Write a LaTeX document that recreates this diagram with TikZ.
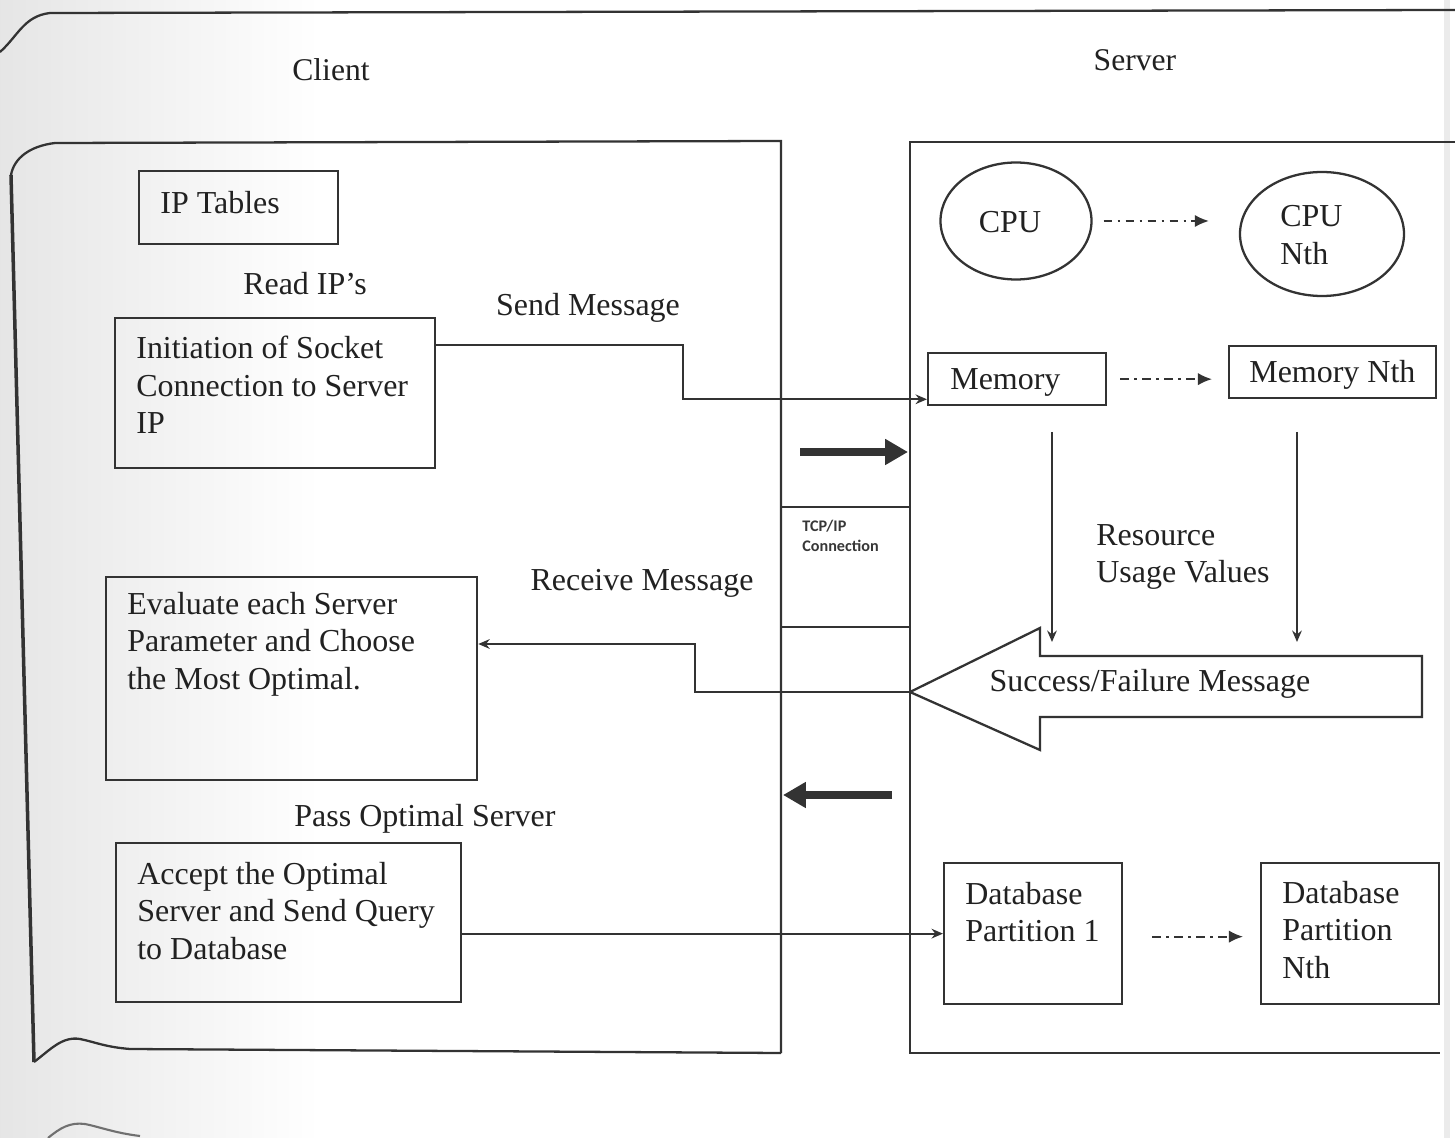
\documentclass[tikz,border=0pt]{standalone}
\usepackage{fontspec}
\setmainfont{Liberation Serif}
\newfontfamily\tcpfont{Carlito}
\usetikzlibrary{arrows.meta,calc,shapes.geometric}

\definecolor{inkc}{gray}{0.2}
\definecolor{txtc}{gray}{0.13}

\begin{document}
\begin{tikzpicture}[x=0.02cm,y=-0.02cm,
  body/.style={font=\fontsize{18.2}{21.3}\selectfont,text=txtc,inner sep=0pt,align=left},
  head/.style={font=\fontsize{18}{22}\selectfont,text=txtc,inner sep=0pt},
  boxn/.style 2 args={draw=inkc,line width=1.3pt,inner sep=0pt,anchor=north west,
    minimum width=#1*0.02cm,minimum height=#2*0.02cm},
  ell/.style 2 args={ellipse,draw=inkc,line width=1.3pt,inner sep=0pt,
    minimum width=#1*0.02cm,minimum height=#2*0.02cm},
  rule/.style={draw=inkc,line width=1.3pt},
  conn/.style={draw=inkc,line width=1.2pt,-{Stealth[length=6.5pt,width=5.5pt]}},
  dda/.style={draw=inkc,line width=1pt,dash pattern=on 5pt off 3pt on 1.5pt off 3pt,
    -{Latex[length=8pt,width=7pt]}},
  fat/.style={draw=inkc,line width=4.5pt,-{Triangle[length=13pt,width=14pt]}},
]
\useasboundingbox (0,0) rectangle (1455,1138);

% scanner shadow on the left and the right edge
\shade[left color=black!10,right color=white] (0,0) rectangle (320,1138);
\fill[black!8] (1444,0) rectangle (1450,1138);

% page outlines
\draw[rule] (0,52) .. controls (18,36) and (24,16) .. (50,13) -- (1455,10);
\draw[rule] (781,1053) -- (781,141) -- (55,143) .. controls (30,146) and (14,158) .. (11,175);
\draw[draw=inkc,line width=2pt] (11,175) -- (34,1062);
\draw[rule] (34,1062) .. controls (50,1050) and (62,1036) .. (80,1039)
  .. controls (95,1042) and (105,1047) .. (130,1049) -- (781,1053);
\draw[draw=inkc!70,line width=1.2pt] (48,1138) .. controls (60,1128) and (70,1122) .. (85,1124)
  .. controls (100,1127) and (115,1133) .. (140,1136);
\draw[rule] (1455,142) -- (910,142) -- (910,1053) -- (1440,1053);

% TCP/IP channel
\draw[rule] (781,507) -- (910,507);
\draw[rule] (781,627) -- (910,627);
\node[anchor=north west,inner sep=0pt,align=left,text=txtc!90,
  font=\tcpfont\bfseries\fontsize{9.2}{11.4}\selectfont] (tcp) at (802,520) {TCP/IP\\Connection};
\coordinate (fatRa) at (800,452);
\coordinate (fatRb) at (908,452);
\coordinate (fatLa) at (892,795);
\coordinate (fatLb) at (783,795);
\draw[fat] (fatRa) -- (fatRb);
\draw[fat] (fatLa) -- (fatLb);

% headings
\node[head] (client) at (331,70) {Client};
\node[head] (server) at (1135,60) {Server};

% client side
\node[boxn={199}{73}] (iptab) at (138,170) {};
\node[body,anchor=west] (iptabT) at (160,203) {IP Tables};
\node[body] (readip) at (305,284) {Read IP’s};
\node[boxn={320}{150}] (init) at (114,317) {};
\node[body,anchor=west] (initT) at (136,385) {Initiation of Socket\\Connection to Server\\IP};
\node[body] (sendm) at (588,308) {Send Message};
\node[boxn={371}{203}] (eval) at (105,576) {};
\node[body,anchor=west] (evalT) at (127,644) {Evaluate each Server\\Parameter and Choose\\the Most Optimal.};
\node[body] (recvm) at (642,583) {Receive Message};
\node[body] (passm) at (425,819) {Pass Optimal Server};
\node[boxn={345}{159}] (accept) at (115,842) {};
\node[body,anchor=west] (acceptT) at (137,911) {Accept the Optimal\\Server and Send Query\\to Database};

% server side
\node[ell={151}{117}] (cpu) at (1016,221) {};
\node[body] (cpuT) at (1010,222) {CPU};
\node[ell={164}{124}] (cpun) at (1322,234) {};
\node[body,anchor=west] (cpunT) at (1280,235) {CPU\\Nth};
\node[boxn={178}{52}] (mem) at (927,352) {};
\node[body,anchor=west] (memT) at (950,382) {Memory};
\node[boxn={207}{52}] (memn) at (1228,345) {};
\node[body,anchor=west] (memnT) at (1249,375) {Memory Nth};
\node[body,anchor=west] (resT) at (1096,557) {Resource\\Usage Values};
\node[boxn={178}{141}] (db1) at (943,862) {};
\node[body,anchor=west] (db1T) at (965,912) {Database\\Partition 1};
\node[boxn={178}{141}] (dbn) at (1260,862) {};
\node[body,anchor=west] (dbnT) at (1282,930) {Database\\Partition\\Nth};

% success / failure block arrow
\coordinate (tip) at (910,692);
\draw[rule,fill=white] (tip) -- (1040,628) -- (1040,656) -- (1422,656) -- (1422,717)
  -- (1040,717) -- (1040,750) -- cycle;
\node[body] (sfm) at (1150,684) {Success/Failure Message};

% resource usage flows
\coordinate (ru1) at (1052,432);
\coordinate (ru2) at (1297,432);
\draw[conn] (ru1) -- (1052,642);
\draw[conn] (ru2) -- (1297,642);

% dash-dot scaling arrows
\draw[dda] ($(cpu.east)+(11,0)$) -- ($(cpun.west)+(-30,-13)$);
\draw[dda] ($(mem.east)+(13,0)$) -- ($(memn.west)+(-16,7)$);
\draw[dda] ($(db1.east)+(29,3)$) -- ($(dbn.west)+(-17,3)$);

% message connectors
\coordinate (sendturn) at (683,370);
\coordinate (recvturn) at (695,668);
\draw[conn] ($(init.north east)+(0,28)$) -| (sendturn) |- ($(mem.south west)+(0,-7)$);
\draw[conn] (tip) -| (recvturn) |- ($(eval.north east)+(0,68)$);
\draw[conn] (accept.east |- db1.west) -- (db1.west);
\end{tikzpicture}
\end{document}
